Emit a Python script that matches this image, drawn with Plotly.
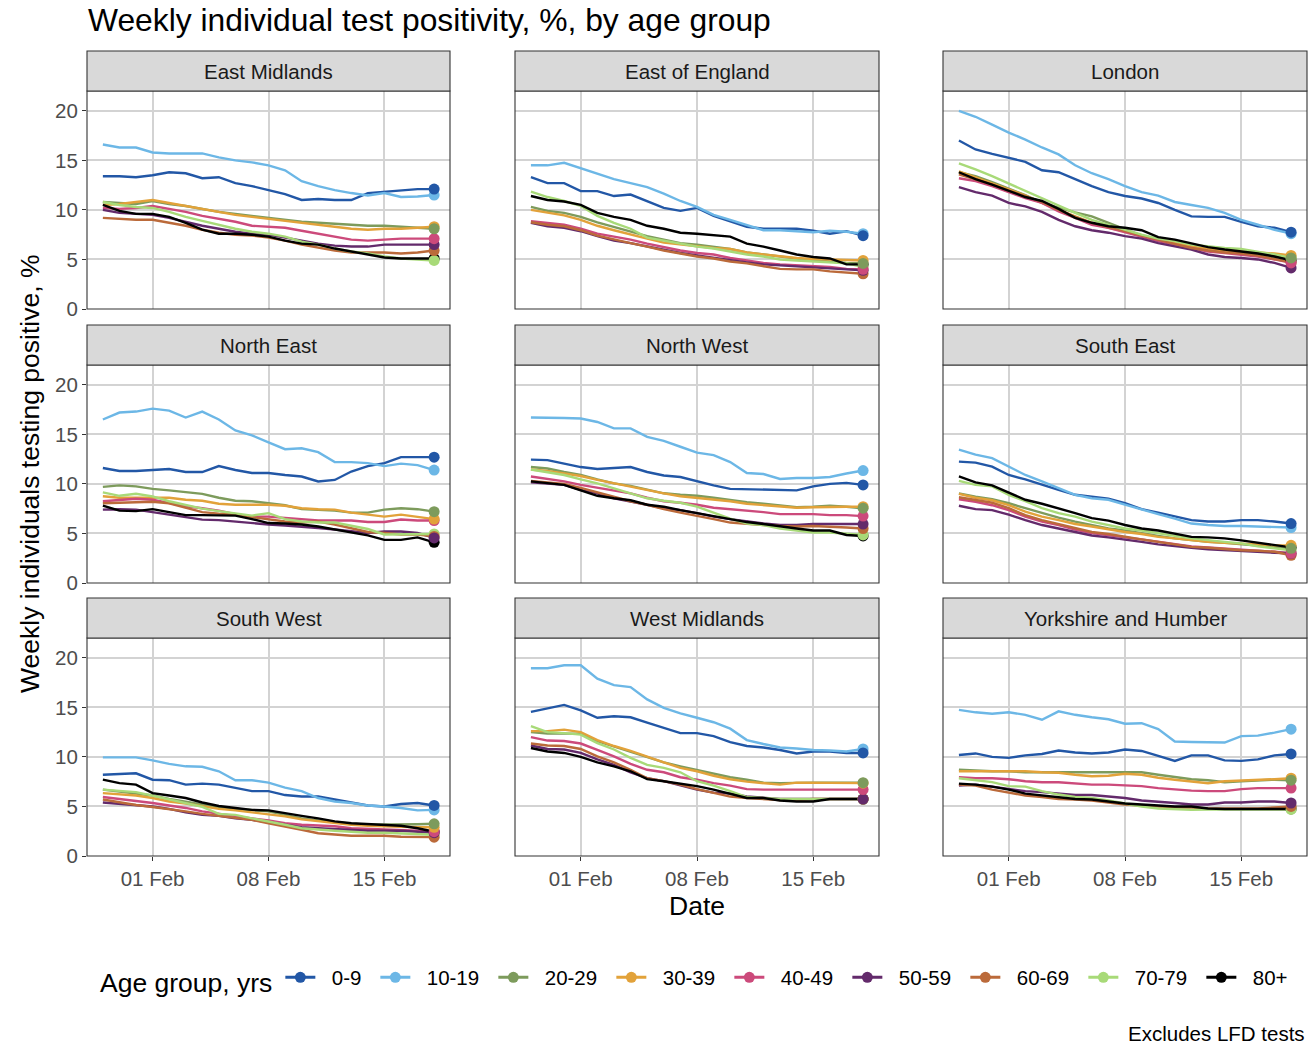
import datetime as dt
import plotly.graph_objects as go

# ---- data -------------------------------------------------------------
start = dt.date(2021, 1, 29)
dates = [start + dt.timedelta(days=i) for i in range(21)]

age_groups = ["0-9", "10-19", "20-29", "30-39", "40-49", "50-59", "60-69", "70-79", "80+"]
age_colors = ["#2257a6", "#6cb7e6", "#7d9b5c", "#e2a23a", "#cc4a7b", "#632a6b",
              "#bb6a3a", "#a8da78", "#000000"]

regions = ["East Midlands", "East of England", "London",
           "North East", "North West", "South East",
           "South West", "West Midlands", "Yorkshire and Humber"]

# weekly positivity (%) per age group, one row per group in age_groups order
east_midlands = [
    [13.4, 13.4, 13.3, 13.5, 13.8, 13.7, 13.2, 13.3, 12.7, 12.4, 12.0, 11.6, 11.0, 11.1, 11.0, 11.0, 11.7, 11.85, 11.95, 12.1, 12.1],
    [16.6, 16.3, 16.3, 15.8, 15.7, 15.7, 15.7, 15.3, 15.0, 14.8, 14.5, 14.0, 12.9, 12.4, 12.0, 11.7, 11.45, 11.7, 11.3, 11.35, 11.5],
    [10.8, 10.7, 10.6, 10.9, 10.6, 10.4, 10.1, 9.8, 9.6, 9.4, 9.2, 9.0, 8.8, 8.7, 8.6, 8.5, 8.4, 8.4, 8.3, 8.2, 8.1],
    [10.5, 10.6, 10.8, 11.0, 10.7, 10.4, 10.1, 9.8, 9.5, 9.3, 9.1, 8.9, 8.7, 8.5, 8.3, 8.1, 8.0, 8.1, 8.1, 8.2, 8.3],
    [10.2, 10.1, 10.2, 10.4, 10.1, 9.8, 9.4, 9.1, 8.8, 8.4, 8.3, 8.2, 7.9, 7.6, 7.3, 7.0, 6.9, 7.0, 7.1, 7.1, 7.1],
    [10.0, 9.7, 9.6, 9.5, 9.2, 8.8, 8.4, 8.1, 7.8, 7.6, 7.5, 7.2, 6.9, 6.6, 6.4, 6.3, 6.3, 6.5, 6.5, 6.5, 6.5],
    [9.2, 9.1, 9.0, 9.0, 8.7, 8.4, 8.0, 7.7, 7.5, 7.4, 7.2, 6.9, 6.5, 6.2, 5.9, 5.7, 5.7, 5.7, 5.6, 5.7, 5.9],
    [10.8, 10.5, 10.3, 10.2, 9.8, 9.3, 8.9, 8.5, 8.1, 7.8, 7.6, 7.3, 6.8, 6.5, 6.1, 5.8, 5.6, 5.3, 5.1, 5.0, 4.9],
    [10.5, 9.9, 9.6, 9.6, 9.3, 8.7, 8.0, 7.6, 7.6, 7.5, 7.3, 6.9, 6.6, 6.5, 6.1, 5.8, 5.5, 5.2, 5.1, 5.1, 5.1],
]

east_of_england = [
    [13.3, 12.7, 12.7, 11.9, 11.9, 11.4, 11.55, 10.9, 10.2, 9.9, 10.2, 9.4, 8.85, 8.3, 8.1, 8.1, 8.1, 7.9, 7.6, 7.85, 7.4],
    [14.5, 14.5, 14.75, 14.2, 13.7, 13.1, 12.7, 12.3, 11.65, 10.9, 10.3, 9.5, 9.0, 8.45, 7.95, 7.95, 7.85, 7.75, 7.9, 7.8, 7.6],
    [10.3, 9.9, 9.7, 9.3, 8.75, 8.3, 7.85, 7.35, 7.0, 6.65, 6.5, 6.3, 6.05, 5.7, 5.5, 5.25, 5.05, 4.9, 4.8, 4.65, 4.6],
    [10.0, 9.7, 9.45, 9.0, 8.4, 7.95, 7.5, 7.1, 6.7, 6.5, 6.3, 6.15, 6.05, 5.7, 5.5, 5.3, 5.15, 5.05, 5.0, 4.9, 4.9],
    [8.85, 8.7, 8.5, 8.1, 7.6, 7.3, 7.0, 6.6, 6.25, 5.9, 5.65, 5.5, 5.15, 4.9, 4.65, 4.5, 4.4, 4.3, 4.25, 4.05, 4.0],
    [8.7, 8.35, 8.2, 7.85, 7.35, 6.9, 6.65, 6.3, 6.0, 5.65, 5.4, 5.15, 4.9, 4.7, 4.5, 4.4, 4.3, 4.2, 4.05, 4.0, 3.9],
    [8.75, 8.5, 8.35, 7.95, 7.4, 7.0, 6.65, 6.3, 5.9, 5.6, 5.3, 5.1, 4.8, 4.6, 4.3, 4.05, 4.0, 4.0, 3.8, 3.65, 3.55],
    [11.85, 11.3, 10.9, 10.4, 9.4, 8.7, 8.1, 7.2, 6.9, 6.6, 6.3, 6.1, 5.8, 5.5, 5.3, 5.0, 4.9, 4.8, 4.7, 4.6, 4.25],
    [11.4, 11.0, 10.85, 10.5, 9.7, 9.3, 9.0, 8.4, 8.1, 7.7, 7.6, 7.45, 7.3, 6.6, 6.3, 5.9, 5.5, 5.25, 5.1, 4.5, 4.5],
]

london = [
    [17.0, 16.1, 15.65, 15.25, 14.85, 14.0, 13.8, 13.1, 12.4, 11.8, 11.4, 11.15, 10.7, 10.0, 9.35, 9.3, 9.3, 8.8, 8.35, 8.2, 7.75],
    [20.0, 19.4, 18.6, 17.8, 17.1, 16.3, 15.6, 14.5, 13.7, 13.1, 12.4, 11.8, 11.45, 10.8, 10.5, 10.2, 9.7, 9.0, 8.5, 8.0, 7.6],
    [13.8, 13.4, 12.8, 12.15, 11.5, 10.7, 10.2, 9.75, 9.35, 8.7, 8.0, 7.4, 7.0, 6.6, 6.3, 6.0, 5.8, 5.7, 5.6, 5.3, 5.15],
    [13.9, 13.3, 12.7, 12.05, 11.45, 10.7, 10.0, 9.35, 8.7, 8.2, 7.85, 7.35, 7.0, 6.65, 6.3, 6.05, 5.9, 5.8, 5.7, 5.6, 5.4],
    [13.2, 12.9, 12.4, 11.8, 11.2, 10.7, 9.85, 9.2, 8.5, 8.2, 7.75, 7.35, 6.85, 6.5, 6.15, 5.8, 5.65, 5.5, 5.3, 5.0, 4.65],
    [12.3, 11.8, 11.45, 10.7, 10.35, 9.8, 9.0, 8.35, 7.95, 7.7, 7.35, 7.1, 6.65, 6.3, 6.0, 5.5, 5.25, 5.15, 5.0, 4.65, 4.15],
    [13.6, 13.1, 12.55, 11.95, 11.4, 10.8, 10.0, 9.3, 8.7, 8.3, 7.85, 7.4, 7.0, 6.6, 6.15, 5.9, 5.7, 5.6, 5.4, 5.05, 4.7],
    [14.7, 14.1, 13.4, 12.65, 11.9, 11.2, 10.4, 9.7, 9.0, 8.5, 8.0, 7.5, 7.1, 6.85, 6.5, 6.3, 6.15, 6.05, 5.8, 5.5, 5.15],
    [13.8, 13.1, 12.55, 11.9, 11.3, 10.9, 10.1, 9.2, 8.7, 8.35, 8.2, 7.95, 7.25, 7.0, 6.65, 6.25, 6.0, 5.8, 5.6, 5.3, 4.9],
]

north_east = [
    [11.6, 11.3, 11.3, 11.4, 11.5, 11.2, 11.2, 11.8, 11.4, 11.1, 11.1, 10.9, 10.75, 10.25, 10.4, 11.25, 11.8, 12.1, 12.7, 12.7, 12.7],
    [16.5, 17.2, 17.3, 17.6, 17.4, 16.7, 17.3, 16.5, 15.4, 14.9, 14.2, 13.5, 13.6, 13.2, 12.2, 12.2, 12.1, 11.8, 12.05, 11.9, 11.4],
    [9.7, 9.85, 9.75, 9.5, 9.35, 9.2, 9.0, 8.6, 8.3, 8.25, 8.05, 7.85, 7.45, 7.4, 7.3, 7.1, 7.1, 7.4, 7.55, 7.45, 7.2],
    [8.75, 8.6, 8.6, 8.6, 8.6, 8.4, 8.3, 8.0, 7.9, 7.9, 7.9, 7.8, 7.55, 7.45, 7.4, 7.1, 6.9, 6.7, 6.9, 6.65, 6.45],
    [8.25, 8.4, 8.5, 8.4, 8.05, 7.75, 7.55, 7.3, 6.95, 6.7, 6.7, 6.55, 6.4, 6.3, 6.3, 6.3, 6.15, 6.15, 6.4, 6.3, 6.3],
    [7.4, 7.45, 7.4, 7.15, 6.9, 6.7, 6.4, 6.35, 6.2, 6.0, 5.9, 5.8, 5.7, 5.55, 5.4, 5.2, 5.05, 5.2, 5.2, 5.05, 4.55],
    [8.05, 8.1, 8.1, 8.2, 8.05, 7.6, 7.15, 7.0, 6.9, 6.65, 6.45, 6.2, 6.1, 6.2, 5.9, 5.55, 5.15, 5.05, 4.9, 4.9, 4.7],
    [9.15, 8.8, 9.0, 8.75, 8.25, 7.9, 7.5, 7.25, 7.05, 6.8, 7.05, 6.45, 6.2, 6.1, 6.1, 5.8, 5.45, 4.9, 4.9, 4.9, 4.95],
    [7.8, 7.3, 7.25, 7.45, 7.15, 6.85, 6.85, 6.85, 6.8, 6.45, 6.05, 6.0, 5.9, 5.7, 5.4, 5.15, 4.8, 4.35, 4.35, 4.6, 4.1],
]

north_west = [
    [12.45, 12.4, 12.05, 11.7, 11.5, 11.6, 11.7, 11.2, 10.85, 10.7, 10.25, 9.85, 9.5, 9.45, 9.4, 9.35, 9.35, 9.75, 10.0, 10.1, 9.9],
    [16.7, 16.7, 16.65, 16.6, 16.25, 15.6, 15.6, 14.75, 14.35, 13.75, 13.15, 12.9, 12.2, 11.1, 11.0, 10.5, 10.6, 10.6, 10.7, 11.05, 11.35],
    [11.7, 11.55, 11.2, 10.9, 10.45, 10.05, 9.8, 9.4, 9.05, 8.9, 8.8, 8.6, 8.35, 8.15, 8.0, 7.8, 7.65, 7.7, 7.8, 7.7, 7.55],
    [11.45, 11.3, 11.05, 10.8, 10.4, 10.05, 9.7, 9.4, 9.05, 8.75, 8.6, 8.45, 8.25, 8.0, 7.85, 7.7, 7.6, 7.65, 7.7, 7.7, 7.7],
    [10.75, 10.5, 10.25, 9.9, 9.6, 9.35, 9.05, 8.6, 8.25, 8.1, 7.9, 7.6, 7.45, 7.35, 7.15, 6.95, 6.95, 6.95, 6.85, 6.85, 6.75],
    [10.15, 10.05, 9.9, 9.4, 9.05, 8.55, 8.25, 7.9, 7.55, 7.35, 7.05, 6.7, 6.45, 6.2, 6.0, 5.85, 5.85, 5.95, 5.95, 5.95, 5.95],
    [10.3, 10.15, 10.0, 9.6, 9.15, 8.65, 8.25, 7.9, 7.45, 7.1, 6.8, 6.45, 6.1, 5.95, 5.85, 5.75, 5.7, 5.75, 5.7, 5.6, 5.5],
    [11.45, 11.2, 10.9, 10.45, 10.05, 9.55, 9.05, 8.55, 8.3, 8.1, 7.7, 7.1, 6.5, 6.0, 5.85, 5.5, 5.3, 5.1, 5.1, 5.0, 4.85],
    [10.25, 10.05, 9.9, 9.35, 8.8, 8.55, 8.35, 7.9, 7.7, 7.35, 7.05, 6.7, 6.45, 6.15, 5.95, 5.7, 5.5, 5.3, 5.3, 4.85, 4.75],
]

south_east = [
    [12.25, 12.15, 11.75, 10.9, 10.45, 9.9, 9.4, 8.9, 8.7, 8.5, 8.05, 7.45, 7.1, 6.7, 6.35, 6.2, 6.2, 6.35, 6.35, 6.2, 6.0],
    [13.45, 12.95, 12.6, 11.75, 10.9, 10.25, 9.55, 8.9, 8.55, 8.4, 7.9, 7.4, 6.95, 6.5, 6.0, 5.85, 5.75, 5.75, 5.7, 5.7, 5.6],
    [9.05, 8.7, 8.45, 8.05, 7.55, 7.05, 6.6, 6.2, 5.85, 5.5, 5.3, 5.0, 4.75, 4.5, 4.3, 4.15, 4.05, 3.9, 3.8, 3.65, 3.5],
    [9.0, 8.6, 8.35, 7.85, 7.2, 6.7, 6.35, 5.95, 5.7, 5.4, 5.15, 4.95, 4.65, 4.5, 4.3, 4.15, 4.05, 4.0, 3.9, 3.8, 3.8],
    [8.45, 8.2, 7.85, 7.35, 6.7, 6.2, 5.85, 5.4, 5.05, 4.8, 4.6, 4.4, 4.15, 3.9, 3.7, 3.6, 3.5, 3.4, 3.3, 3.15, 3.0],
    [7.8, 7.45, 7.35, 6.9, 6.35, 5.85, 5.5, 5.15, 4.8, 4.6, 4.4, 4.15, 3.9, 3.7, 3.55, 3.4, 3.3, 3.25, 3.15, 3.05, 3.0],
    [8.65, 8.35, 8.1, 7.55, 6.85, 6.35, 5.95, 5.5, 5.15, 4.95, 4.65, 4.4, 4.15, 3.9, 3.65, 3.55, 3.4, 3.3, 3.25, 3.15, 2.8],
    [10.3, 9.9, 9.75, 8.9, 8.25, 7.55, 7.05, 6.7, 6.2, 5.85, 5.5, 5.3, 5.0, 4.75, 4.5, 4.3, 4.15, 4.0, 3.7, 3.5, 3.3],
    [10.75, 10.15, 9.85, 9.1, 8.4, 8.0, 7.55, 7.05, 6.55, 6.3, 5.85, 5.5, 5.3, 5.0, 4.65, 4.6, 4.5, 4.3, 4.05, 3.8, 3.6],
]

south_west = [
    [8.2, 8.3, 8.35, 7.7, 7.65, 7.2, 7.3, 7.2, 6.85, 6.55, 6.55, 6.15, 6.0, 6.0, 5.7, 5.4, 5.1, 5.0, 5.25, 5.35, 5.1],
    [9.95, 9.95, 9.95, 9.65, 9.3, 9.05, 9.0, 8.55, 7.65, 7.65, 7.4, 6.9, 6.55, 5.85, 5.5, 5.35, 5.1, 5.0, 4.85, 4.6, 4.65],
    [6.7, 6.5, 6.35, 6.1, 5.75, 5.5, 5.2, 4.9, 4.75, 4.65, 4.5, 4.15, 3.8, 3.6, 3.4, 3.25, 3.15, 3.15, 3.15, 3.2, 3.25],
    [6.35, 6.2, 6.1, 5.85, 5.5, 5.3, 5.0, 4.75, 4.6, 4.4, 4.25, 4.0, 3.7, 3.5, 3.3, 3.15, 3.05, 3.0, 2.9, 2.9, 2.9],
    [5.95, 5.75, 5.6, 5.35, 5.1, 4.85, 4.5, 4.25, 4.05, 3.8, 3.6, 3.3, 3.15, 3.05, 3.0, 2.8, 2.75, 2.7, 2.65, 2.55, 2.45],
    [5.4, 5.25, 5.15, 5.0, 4.75, 4.4, 4.15, 4.05, 3.8, 3.65, 3.4, 3.15, 2.9, 2.8, 2.7, 2.65, 2.55, 2.55, 2.55, 2.45, 2.35],
    [5.7, 5.4, 5.15, 4.95, 4.75, 4.5, 4.25, 4.05, 3.8, 3.65, 3.3, 3.0, 2.65, 2.3, 2.15, 2.05, 2.05, 2.05, 1.95, 1.95, 1.9],
    [6.7, 6.6, 6.45, 6.1, 5.7, 5.35, 4.95, 4.25, 4.15, 3.8, 3.5, 3.15, 2.8, 2.65, 2.55, 2.45, 2.35, 2.35, 2.3, 2.25, 2.15],
    [7.7, 7.35, 7.2, 6.35, 6.1, 5.85, 5.4, 5.05, 4.85, 4.65, 4.6, 4.3, 4.05, 3.8, 3.5, 3.3, 3.2, 3.15, 3.05, 2.8, 2.45],
]

west_midlands = [
    [14.55, 14.9, 15.25, 14.7, 13.95, 14.1, 14.0, 13.45, 12.95, 12.4, 12.4, 12.1, 11.5, 11.1, 10.95, 10.7, 10.35, 10.55, 10.55, 10.4, 10.4],
    [18.95, 18.95, 19.25, 19.25, 17.9, 17.25, 17.05, 15.8, 14.95, 14.4, 13.95, 13.5, 12.85, 11.7, 11.3, 10.95, 10.85, 10.7, 10.65, 10.55, 10.8],
    [12.5, 12.35, 12.35, 12.35, 11.6, 11.05, 10.5, 9.95, 9.45, 9.05, 8.7, 8.3, 7.95, 7.7, 7.4, 7.35, 7.4, 7.4, 7.4, 7.4, 7.4],
    [12.6, 12.6, 12.75, 12.5, 11.7, 11.1, 10.6, 10.0, 9.45, 8.9, 8.55, 8.1, 7.75, 7.5, 7.35, 7.2, 7.4, 7.4, 7.35, 7.35, 7.35],
    [12.0, 11.65, 11.6, 11.35, 10.7, 10.05, 9.3, 8.7, 8.45, 7.95, 7.7, 7.35, 7.1, 6.75, 6.7, 6.7, 6.7, 6.7, 6.7, 6.7, 6.7],
    [11.15, 10.8, 10.75, 10.4, 9.75, 9.2, 8.45, 7.85, 7.55, 7.1, 6.7, 6.4, 6.3, 6.0, 5.85, 5.75, 5.75, 5.75, 5.75, 5.75, 5.75],
    [11.35, 11.15, 11.1, 10.8, 10.05, 9.45, 8.7, 7.85, 7.55, 7.2, 6.75, 6.35, 6.0, 5.85, 5.75, 5.65, 5.65, 5.75, 5.75, 5.75, 5.75],
    [13.1, 12.5, 12.4, 12.25, 11.4, 10.75, 9.9, 9.2, 8.9, 8.45, 7.55, 7.1, 6.55, 5.95, 5.85, 5.75, 5.75, 5.75, 5.75, 5.75, 5.75],
    [10.9, 10.55, 10.4, 10.0, 9.45, 9.05, 8.55, 7.75, 7.55, 7.3, 7.05, 6.7, 6.3, 5.85, 5.85, 5.6, 5.5, 5.5, 5.75, 5.75, 5.75],
]

yorkshire_humber = [
    [10.2, 10.35, 10.0, 9.9, 10.15, 10.3, 10.65, 10.45, 10.35, 10.45, 10.75, 10.6, 10.1, 9.6, 10.15, 10.15, 9.65, 9.6, 9.75, 10.15, 10.3],
    [14.75, 14.5, 14.35, 14.5, 14.25, 13.75, 14.6, 14.25, 14.0, 13.8, 13.35, 13.4, 12.8, 11.55, 11.5, 11.5, 11.45, 12.1, 12.15, 12.45, 12.8],
    [8.7, 8.6, 8.55, 8.55, 8.45, 8.45, 8.45, 8.4, 8.4, 8.4, 8.4, 8.45, 8.2, 7.95, 7.75, 7.65, 7.45, 7.55, 7.65, 7.7, 7.65],
    [8.55, 8.55, 8.6, 8.6, 8.55, 8.45, 8.4, 8.2, 8.05, 8.1, 8.3, 8.2, 7.9, 7.7, 7.55, 7.35, 7.55, 7.6, 7.7, 7.75, 7.85],
    [7.95, 7.85, 7.85, 7.75, 7.55, 7.45, 7.45, 7.3, 7.2, 7.2, 7.1, 7.05, 6.85, 6.7, 6.6, 6.55, 6.55, 6.75, 6.85, 6.85, 6.85],
    [7.1, 7.2, 7.0, 6.75, 6.55, 6.45, 6.3, 6.15, 6.15, 6.0, 5.85, 5.6, 5.5, 5.35, 5.2, 5.2, 5.4, 5.4, 5.5, 5.5, 5.35],
    [7.2, 7.1, 6.7, 6.4, 6.1, 5.95, 5.75, 5.7, 5.6, 5.4, 5.2, 5.1, 5.0, 4.9, 4.9, 4.8, 4.8, 4.8, 4.8, 4.9, 5.0],
    [7.85, 7.65, 7.45, 7.05, 7.0, 6.55, 6.2, 5.95, 5.85, 5.6, 5.3, 5.0, 4.8, 4.7, 4.65, 4.7, 4.7, 4.75, 4.75, 4.75, 4.7],
    [7.3, 7.2, 7.0, 6.7, 6.3, 6.1, 5.95, 5.75, 5.7, 5.5, 5.3, 5.2, 5.1, 5.0, 5.0, 4.8, 4.75, 4.75, 4.75, 4.75, 4.75],
]

region_values = [east_midlands, east_of_england, london,
                 north_east, north_west, south_east,
                 south_west, west_midlands, yorkshire_humber]

y_ticks = [0, 5, 10, 15, 20]
x_ticks = [dt.date(2021, 2, 1), dt.date(2021, 2, 8), dt.date(2021, 2, 15)]
x_tick_text = ["01 Feb", "08 Feb", "15 Feb"]

# ---- layout geometry (pixels) ------------------------------------------
W, H = 1312, 1044
col_px = [(87, 450), (515, 879), (943, 1307)]
row_px = [(91, 309), (365, 583), (638, 856)]      # panel top, bottom
strip_h = 40

FONT = "Liberation Sans, Arial, sans-serif"
BORDER = "#333333"
GRID = "#d3d3d3"
NBSP = "\u00a0"


def fx(px):
    return px / W


def fy(py):
    return 1 - py / H


fig = go.Figure()
layout = dict(
    width=W, height=H,
    margin=dict(l=0, r=0, t=0, b=0, autoexpand=False),
    paper_bgcolor="white", plot_bgcolor="white",
    font=dict(family=FONT, color="#1a1a1a"),
    showlegend=True,
)
shapes = []
annotations = []
point_traces = []

for i, (region, values) in enumerate(zip(regions, region_values)):
    r, c = divmod(i, 3)
    n = i + 1
    xa = "xaxis" if n == 1 else f"xaxis{n}"
    ya = "yaxis" if n == 1 else f"yaxis{n}"
    xr = "x" if n == 1 else f"x{n}"
    yr = "y" if n == 1 else f"y{n}"
    x0, x1 = col_px[c]
    top, bot = row_px[r]
    bottom_row = r == 2
    left_col = c == 0

    layout[xa] = dict(
        domain=[fx(x0), fx(x1)], anchor=yr,
        type="date",
        range=[dt.datetime(2021, 1, 28, 1), dt.datetime(2021, 2, 18, 23)],
        tickvals=x_ticks, ticktext=x_tick_text,
        showticklabels=bottom_row,
        ticks="outside" if bottom_row else "", ticklen=4, tickwidth=1.1, tickcolor=BORDER,
        tickfont=dict(size=20.5, color="#4d4d4d"),
        showgrid=True, gridcolor=GRID, gridwidth=1.6,
        zeroline=False, showline=False, fixedrange=True, automargin=False,
    )
    layout[ya] = dict(
        domain=[fy(bot), fy(top)], anchor=xr,
        range=[0, 22],
        tickvals=y_ticks,
        showticklabels=left_col,
        ticks="outside" if left_col else "", ticklen=4, tickwidth=1.1, tickcolor=BORDER,
        tickfont=dict(size=20.5, color="#4d4d4d"),
        showgrid=True, gridcolor=GRID, gridwidth=1.6,
        zeroline=False, showline=False, fixedrange=True, automargin=False,
    )

    # panel border
    shapes.append(dict(type="rect", xref=f"{xr} domain", yref=f"{yr} domain",
                       x0=0, x1=1, y0=0, y1=1, line=dict(color=BORDER, width=1.1),
                       fillcolor="rgba(0,0,0,0)", layer="above"))
    # facet strip
    shapes.append(dict(type="rect", xref="paper", yref="paper",
                       x0=fx(x0), x1=fx(x1), y0=fy(top), y1=fy(top - strip_h),
                       line=dict(color=BORDER, width=1.1), fillcolor="#d9d9d9",
                       layer="above"))
    annotations.append(dict(text=region, xref="paper", yref="paper",
                            x=fx((x0 + x1) / 2), y=fy(top - strip_h / 2),
                            xanchor="center", yanchor="middle", showarrow=False,
                            font=dict(size=20.5, color="#1a1a1a")))

    # lines first (0-9 at the bottom, 80+ on top)
    for k, (age, color) in enumerate(zip(age_groups, age_colors)):
        fig.add_trace(go.Scatter(
            x=dates, y=values[k], xaxis=xr, yaxis=yr,
            mode="lines", line=dict(color=color, width=2.4),
            legendgroup=age, showlegend=False, hoverinfo="skip",
        ))

    # end-of-series points, drawn over every line (0-9 ends up on top)
    for k in reversed(range(len(age_groups))):
        age, color = age_groups[k], age_colors[k]
        point_traces.append(go.Scatter(
            x=[dates[-1]], y=[values[k][-1]], xaxis=xr, yaxis=yr,
            mode="lines+markers", name=NBSP * 2 + age,
            line=dict(color=color, width=3),
            marker=dict(color=color, size=11),
            legendgroup=age, legendrank=k + 1, showlegend=(i == 0),
            legendwidth=50 if k == 0 else 73,
        ))

for tr in point_traces:
    fig.add_trace(tr)

# titles and caption
annotations += [
    dict(text="Weekly individual test positivity, %, by age group",
         xref="paper", yref="paper", x=fx(86), y=fy(20),
         xanchor="left", yanchor="middle", showarrow=False,
         font=dict(size=31.8, color="#000000")),
    dict(text="Weekly individuals testing positive, %",
         xref="paper", yref="paper", x=fx(30), y=fy(474),
         xanchor="center", yanchor="middle", textangle=-90, showarrow=False,
         font=dict(size=26.5, color="#000000")),
    dict(text="Date", xref="paper", yref="paper", x=fx(697), y=fy(906),
         xanchor="center", yanchor="middle", showarrow=False,
         font=dict(size=26.5, color="#000000")),
    dict(text="Excludes LFD tests", xref="paper", yref="paper", x=fx(1307), y=fy(1033),
         xanchor="right", yanchor="middle", showarrow=False,
         font=dict(size=20.5, color="#000000")),
]

layout["shapes"] = shapes
layout["annotations"] = annotations
layout["legend"] = dict(
    orientation="h", x=fx(98), y=fy(980), xanchor="left", yanchor="middle",
    title=dict(text="Age group, yrs", side="left", font=dict(size=26.5, color="#000000")),
    font=dict(size=20.5, color="#000000"),
    itemwidth=30, entrywidth=73, traceorder="normal",
    bgcolor="rgba(0,0,0,0)", itemclick=False, itemdoubleclick=False,
)
fig.update_layout(**layout)

fig.write_html("out.html")
